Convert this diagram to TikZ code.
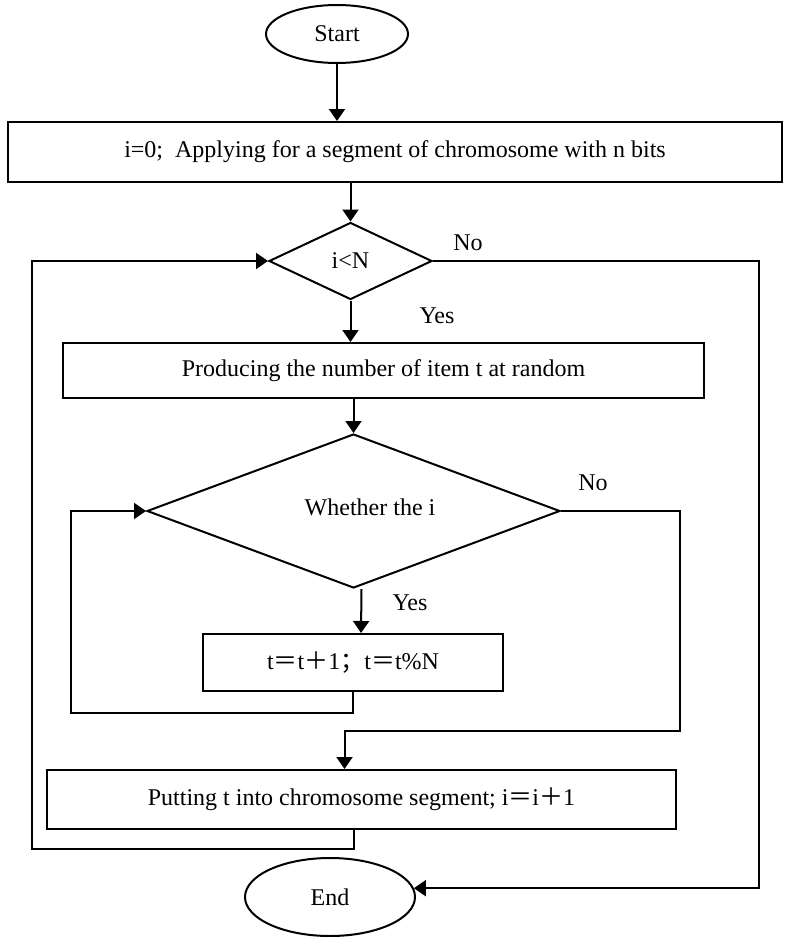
\documentclass[tikz,border=0pt]{standalone}
\usepackage{fontspec}
\setmainfont{Liberation Serif}
\newfontfamily\cjk{Noto Sans CJK SC}
\usetikzlibrary{arrows.meta,shapes.geometric,calc}

\begin{document}
\begin{tikzpicture}[%
    x=0.5pt, y=-0.5pt,
    >={Triangle[length=6pt,width=8pt]},
    line width=1pt,
    font=\fontsize{12}{14}\selectfont,
    term/.style={draw, ellipse, inner sep=0pt},
    proc/.style={draw, rectangle, inner sep=0pt},
    test/.style={draw, diamond, inner sep=0pt}
  ]
  \useasboundingbox (0,0) rectangle (787,937);

  \node[term, minimum width=71pt, minimum height=29pt] (start) at (337,34) {Start};
  \node[proc, minimum width=387pt, minimum height=30pt] (init) at (395,152)
    {i=0;\ \ Applying for a segment of chromosome with n bits};
  \node[test, minimum width=81.5pt, minimum height=38.5pt] (loop) at (350.5,261) {i<N};
  \node[proc, minimum width=320.5pt, minimum height=27.5pt] (pick) at (383.5,370.5)
    {Producing the number of item t at random};
  \node[test, minimum width=206.5pt, minimum height=77pt] (used) at (353.5,511) {};
  \node (usedtext) at (370,507) {Whether the i};
  \node[proc, minimum width=150pt, minimum height=28.5pt] (shift) at (353,662.5)
    {t{\cjk ＝}t{\cjk ＋}1{\cjk ；}t{\cjk ＝}t\%N};
  \node[proc, minimum width=314.5pt, minimum height=29.5pt] (put) at (361.5,799.5)
    {Putting t into chromosome segment; i{\cjk ＝}i{\cjk ＋}1};
  \node[term, minimum width=85pt, minimum height=39pt] (end) at (330,897) {End};

  \node (no1) at (468,243) {No};
  \node (yes1) at (437,316) {Yes};
  \node (no2) at (593,483) {No};
  \node (yes2) at (410,603) {Yes};

  \draw[->] (start) -- (start |- init.north);
  \draw[->] (init.south -| loop) -- (loop.north);
  \draw[->] (loop.south) -- (pick.north -| loop);
  \draw[->] (pick.south -| used) -- (used.north);
  \draw[->] ($(used.south)+(8,0)$) -- ($(shift.north)+(8,0)$);
  \draw[->] (shift.south) -- ++(0,21) -- ++(-282,0) |- (used.west);
  \draw[->] (used.east) -- ++(119,0) -- ++(0,220) -| ($(put.north)+(-17,0)$);
  \draw[->] ($(put.south)+(-8,0)$) -- ++(0,19) -- ++(-322,0) |- (loop.west);
  \draw[->] (loop.east) -- ++(326,0) |- (end.6);
\end{tikzpicture}
\end{document}
